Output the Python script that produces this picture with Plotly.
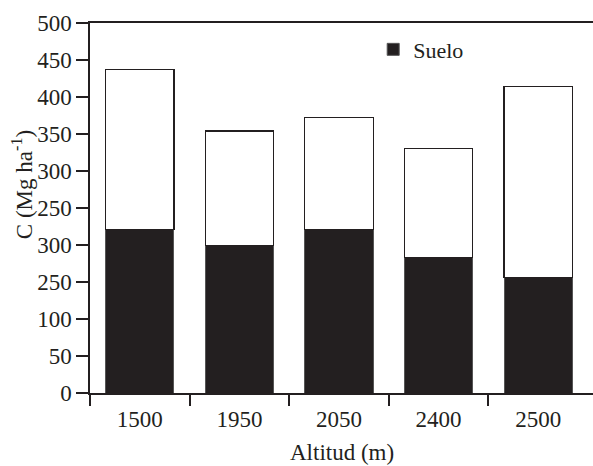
import plotly.graph_objects as go

categories = ["1500", "1950", "2050", "2400", "2500"]
suelo = [221, 199, 221, 183, 156]
total = [437, 354, 372, 330, 414]
resto = [t - s for t, s in zip(total, suelo)]

y_tickvals = [0, 50, 100, 150, 200, 250, 300, 350, 400, 450, 500]
y_ticktext = ["0", "50", "100", "250", "300", "250", "300", "350", "400", "450", "500"]

xpos = list(range(len(categories)))
boundaries = [i - 0.5 for i in xpos]

ink = "#231f20"
font = "Liberation Serif, Times New Roman, serif"

fig = go.Figure()
fig.add_trace(go.Bar(
    x=xpos, y=suelo, name="Suelo",
    marker=dict(color=ink, line=dict(color="#555555", width=1)),
    width=0.686, showlegend=True,
))
fig.add_trace(go.Bar(
    x=xpos, y=resto, name="Resto",
    marker=dict(color="white", line=dict(color=ink, width=1.2)),
    width=0.686, showlegend=False,
))

fig.update_layout(
    barmode="stack",
    width=593, height=466,
    margin=dict(l=90, r=0, t=23, b=73),
    paper_bgcolor="white", plot_bgcolor="white",
    font=dict(family=font, size=23, color=ink),
    showlegend=True,
    legend=dict(x=0.563, y=0.985, xanchor="left", yanchor="top",
                bgcolor="rgba(0,0,0,0)", font=dict(size=22, family=font, color=ink)),
    xaxis=dict(
        range=[-0.5, 4.55],
        tickmode="array", tickvals=xpos, ticktext=categories,
        ticks="outside", ticklen=5, tickcolor="rgba(0,0,0,0)",
        showline=True, linecolor=ink, linewidth=1.5, mirror=True,
        showgrid=False, zeroline=False,
        minor=dict(tickmode="array", tickvals=boundaries, ticks="outside",
                   ticklen=11, tickcolor=ink, tickwidth=1.5, showgrid=False),
        tickfont=dict(size=23),
    ),
    yaxis=dict(
        range=[0, 500],
        tickmode="array", tickvals=y_tickvals, ticktext=y_ticktext,
        ticks="outside", ticklen=12, tickcolor=ink, tickwidth=1.5,
        showline=True, linecolor=ink, linewidth=1.5, mirror=False,
        showgrid=False, zeroline=False,
        tickfont=dict(size=23),
    ),
    annotations=[
        dict(text="Altitud (m)", xref="paper", yref="paper", x=0.5, y=-0.162,
             xanchor="center", yanchor="middle", showarrow=False,
             font=dict(size=23, family=font, color=ink)),
        dict(text="C (Mg ha<sup>-1</sup>)", xref="paper", yref="paper", x=-0.135, y=0.562,
             xanchor="center", yanchor="middle", textangle=-90, showarrow=False,
             font=dict(size=23, family=font, color=ink)),
    ],
)

fig.write_html("out.html", config={"displayModeBar": False},
               post_script="document.body.style.margin='0';")
